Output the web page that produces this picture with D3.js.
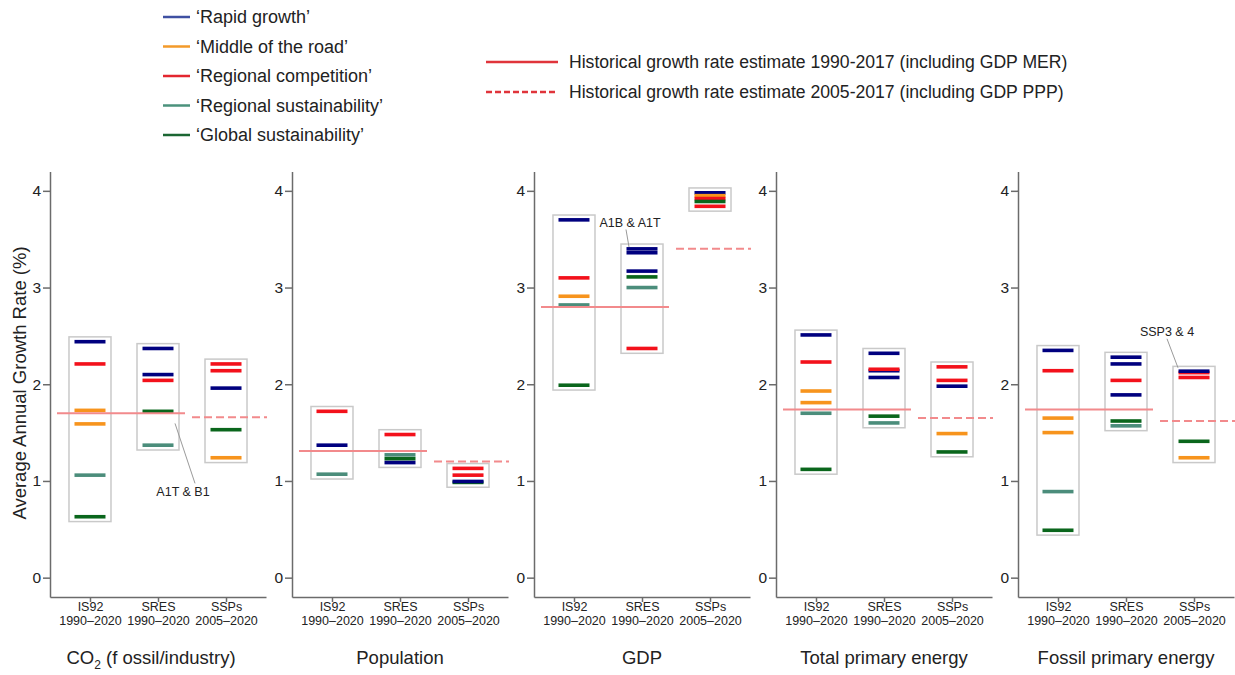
<!DOCTYPE html>
<html>
<head>
<meta charset="utf-8">
<script src="https://cdn.jsdelivr.net/npm/d3@7"></script>
<style>
  body { margin: 0; background: #fff; }
  svg { display: block; font-family: "Liberation Sans", Arial, sans-serif; }
</style>
</head>
<body>
<div id="chart"></div>
<script>
// ---- data ----
const categories = ["IS92", "SRES", "SSPs"];
const periods = ["1990–2020", "1990–2020", "2005–2020"];
const yTicks = [0, 1, 2, 3, 4];

const seriesKeys = ["rapid", "middle", "competition", "regSust", "globSust"];
const seriesNames = ["‘Rapid growth’", "‘Middle of the road’", "‘Regional competition’",
                     "‘Regional sustainability’", "‘Global sustainability’"];
const histNames = ["Historical growth rate estimate 1990-2017 (including GDP MER)",
                   "Historical growth rate estimate 2005-2017 (including GDP PPP)"];

const panelTitles = ["CO2", "Population", "GDP", "Total primary energy", "Fossil primary energy"];

// [category, series, average annual growth rate %]
const co2Bars = [
  ["IS92", "rapid", 2.44], ["IS92", "competition", 2.21], ["IS92", "middle", 1.73],
  ["IS92", "middle", 1.59], ["IS92", "regSust", 1.06], ["IS92", "globSust", 0.63],
  ["SRES", "rapid", 2.37], ["SRES", "rapid", 2.10], ["SRES", "competition", 2.04],
  ["SRES", "globSust", 1.72], ["SRES", "regSust", 1.37],
  ["SSPs", "competition", 2.21], ["SSPs", "competition", 2.14], ["SSPs", "rapid", 1.96],
  ["SSPs", "globSust", 1.53], ["SSPs", "middle", 1.24]
];
const popBars = [
  ["IS92", "competition", 1.72], ["IS92", "rapid", 1.37], ["IS92", "regSust", 1.07],
  ["SRES", "competition", 1.48], ["SRES", "regSust", 1.27], ["SRES", "globSust", 1.23],
  ["SRES", "rapid", 1.19],
  ["SSPs", "competition", 1.13], ["SSPs", "competition", 1.06], ["SSPs", "globSust", 0.985],
  ["SSPs", "rapid", 0.995]
];
const gdpBars = [
  ["IS92", "rapid", 3.70], ["IS92", "competition", 3.10], ["IS92", "middle", 2.91],
  ["IS92", "regSust", 2.82], ["IS92", "globSust", 1.99],
  ["SRES", "rapid", 3.40], ["SRES", "rapid", 3.36], ["SRES", "rapid", 3.17],
  ["SRES", "globSust", 3.11], ["SRES", "regSust", 3.00], ["SRES", "competition", 2.37],
  ["SSPs", "rapid", 3.98], ["SSPs", "middle", 3.95], ["SSPs", "competition", 3.92],
  ["SSPs", "globSust", 3.89], ["SSPs", "competition", 3.84]
];
const energyBars = [
  ["IS92", "rapid", 2.51], ["IS92", "competition", 2.23], ["IS92", "middle", 1.93],
  ["IS92", "middle", 1.81], ["IS92", "regSust", 1.70], ["IS92", "globSust", 1.12],
  ["SRES", "rapid", 2.32], ["SRES", "rapid", 2.14], ["SRES", "competition", 2.155],
  ["SRES", "rapid", 2.07], ["SRES", "globSust", 1.67], ["SRES", "regSust", 1.60],
  ["SSPs", "competition", 2.18], ["SSPs", "competition", 2.04], ["SSPs", "rapid", 1.98],
  ["SSPs", "middle", 1.49], ["SSPs", "globSust", 1.30]
];
const fossilBars = [
  ["IS92", "rapid", 2.35], ["IS92", "competition", 2.14], ["IS92", "middle", 1.65],
  ["IS92", "middle", 1.50], ["IS92", "regSust", 0.89], ["IS92", "globSust", 0.49],
  ["SRES", "rapid", 2.28], ["SRES", "rapid", 2.21], ["SRES", "competition", 2.04],
  ["SRES", "rapid", 1.89], ["SRES", "globSust", 1.62], ["SRES", "regSust", 1.57],
  ["SSPs", "competition", 2.12], ["SSPs", "rapid", 2.135], ["SSPs", "competition", 2.07],
  ["SSPs", "globSust", 1.41], ["SSPs", "middle", 1.24]
];
const panelBars = [co2Bars, popBars, gdpBars, energyBars, fossilBars];

const histSolid = [1.70, 1.31, 2.80, 1.74, 1.74];   // 1990-2017
const histDashed = [1.66, 1.20, 3.40, 1.65, 1.62];  // 2005-2017

// annotations: [panel, category, label, value at line top, value at line bottom]
const notes = [
  [0, "SRES", "A1T & B1", 0.975, 1.595],
  [2, "SRES", "A1B & A1T", 3.60, 3.42],
  [4, "SSPs", "SSP3 & 4", 2.47, 2.17]
];

// ---- styles ----
const barColor = { rapid: "#00007f", middle: "#f7941d", competition: "#f3111b", regSust: "#4b8d7b", globSust: "#0a661c" };
const legendColor = { rapid: "#3f50a2", middle: "#f39a2a", competition: "#e3262f", regSust: "#4b927c", globSust: "#1b6632" };
const histColor = "#f28a8c";
const axisColor = "#6b6b6b";

const width = 1235, height = 675;
const svg = d3.select("#chart").append("svg").attr("width", width).attr("height", height);

// ---- legend ----
const leg = svg.append("g");
seriesKeys.forEach((k, i) => {
  const yy = 17 + i * 29.5;
  leg.append("line").attr("x1", 163).attr("x2", 190).attr("y1", yy).attr("y2", yy)
    .attr("stroke", legendColor[k]).attr("stroke-width", 2.5);
  leg.append("text").attr("x", 196).attr("y", yy).attr("dy", "0.35em")
    .attr("font-size", 18).attr("fill", "#222").text(seriesNames[i]);
});
histNames.forEach((t, i) => {
  const yy = 62 + i * 30;
  leg.append("line").attr("x1", 486).attr("x2", 558).attr("y1", yy).attr("y2", yy)
    .attr("stroke", "#e0343b").attr("stroke-width", 2.5)
    .attr("stroke-dasharray", i === 1 ? "6,3" : null);
  leg.append("text").attr("x", 569).attr("y", yy).attr("dy", "0.35em")
    .attr("font-size", 17.6).attr("fill", "#222").text(t);
});

// ---- panels ----
const y = d3.scaleLinear().domain([-0.2, 4.2]).range([597, 171.5]);
const panelW = 216;
const x = d3.scalePoint().domain(categories).range([0, panelW]).padding(0.588);
const boxHalf = 21, barHalf = 15.5, boxPad = 0.05;

panelBars.forEach((bars, p) => {
  const g = svg.append("g").attr("transform", `translate(${50 + p * 242},0)`);

  // range boxes
  categories.forEach(c => {
    const vals = bars.filter(d => d[0] === c).map(d => d[2]);
    const hi = d3.max(vals) + boxPad, lo = d3.min(vals) - boxPad;
    g.append("rect")
      .attr("x", x(c) - boxHalf).attr("width", boxHalf * 2)
      .attr("y", y(hi)).attr("height", y(lo) - y(hi))
      .attr("fill", "none").attr("stroke", "#c9c9c9").attr("stroke-width", 1.5);
  });

  // scenario bars
  g.selectAll(".bar").data(bars).enter().append("line")
    .attr("class", "bar")
    .attr("x1", d => x(d[0]) - barHalf).attr("x2", d => x(d[0]) + barHalf)
    .attr("y1", d => y(d[2])).attr("y2", d => y(d[2]))
    .attr("stroke", d => barColor[d[1]]).attr("stroke-width", 3.6);

  // historical estimates
  g.append("line")
    .attr("x1", x("IS92") - 33).attr("x2", x("SRES") + 27)
    .attr("y1", y(histSolid[p])).attr("y2", y(histSolid[p]))
    .attr("stroke", histColor).attr("stroke-width", 2);
  g.append("line")
    .attr("x1", x("SSPs") - 34).attr("x2", x("SSPs") + 41)
    .attr("y1", y(histDashed[p])).attr("y2", y(histDashed[p]))
    .attr("stroke", histColor).attr("stroke-width", 2).attr("stroke-dasharray", "8,4");

  // axes
  const ya = g.append("g").call(d3.axisLeft(y).tickValues(yTicks).tickFormat(d3.format("d"))
    .tickSize(7).tickSizeOuter(0));
  ya.selectAll("text").attr("font-size", 15.5).attr("fill", "#222").attr("x", -9);
  const xa = g.append("g").attr("transform", "translate(0,597)")
    .call(d3.axisBottom(x).tickSize(5).tickSizeOuter(0));
  xa.selectAll("text").each(function(d) {
    const t = d3.select(this).text(null).attr("fill", "#222").attr("font-size", 12.5)
      .attr("y", 14).attr("dy", 0);
    t.append("tspan").attr("x", 0).attr("dy", 0).text(d);
    t.append("tspan").attr("x", 0).attr("dy", 14).text(periods[categories.indexOf(d)]);
  });
  [ya, xa].forEach(a => {
    a.selectAll("path, line").attr("stroke", axisColor).attr("stroke-width", 1.5);
  });

  // panel title
  const title = g.append("text").attr("x", x("SRES") - (p === 0 ? 7 : 0)).attr("y", 664)
    .attr("text-anchor", "middle").attr("font-size", 18.5).attr("fill", "#222");
  if (p === 0) {
    title.append("tspan").text("CO");
    title.append("tspan").attr("font-size", 12).attr("dy", 5).text("2");
    title.append("tspan").attr("dy", -5).text(" (f ossil/industry)");
  } else {
    title.text(panelTitles[p]);
  }
});

// y-axis title
svg.append("text").attr("transform", "translate(26,383) rotate(-90)")
  .attr("text-anchor", "middle").attr("font-size", 18.5).attr("fill", "#222")
  .text("Average Annual Growth Rate (%)");

// annotations
notes.forEach(([p, c, label, vTop, vBot]) => {
  const ox = 50 + p * 242 + x(c);
  const dx = p === 0 ? [37, 17, 25] : p === 2 ? [-16, -13, -12] : [-27, -16, -27];
  const yText = p === 0 ? y(vTop) + 13 : y(vTop) - 3;
  svg.append("line")
    .attr("x1", ox + dx[0]).attr("y1", y(vTop))
    .attr("x2", ox + dx[1]).attr("y2", y(vBot))
    .attr("stroke", "#9a9a9a").attr("stroke-width", 1);
  svg.append("text").attr("x", ox + dx[2]).attr("y", yText)
    .attr("text-anchor", "middle").attr("font-size", 12.5).attr("fill", "#222").text(label);
});
</script>
</body>
</html>
